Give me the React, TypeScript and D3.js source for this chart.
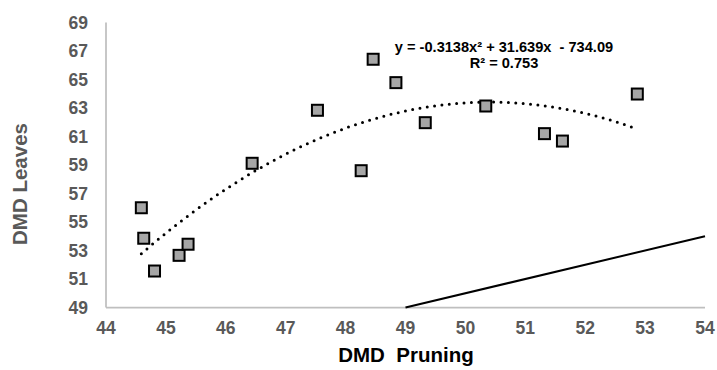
import React from "react";
import * as d3 from "d3";

const pruning = [44.59, 44.63, 44.81, 45.22, 45.37, 46.44, 47.53, 48.26, 48.46, 48.84, 49.33, 50.34, 51.32, 51.62, 52.87];
const leaves = [56.0, 53.86, 51.56, 52.66, 53.44, 59.12, 62.84, 58.6, 66.42, 64.78, 61.97, 63.14, 61.2, 60.68, 63.98];
const xTicks = [44, 45, 46, 47, 48, 49, 50, 51, 52, 53, 54];
const yTicks = [49, 51, 53, 55, 57, 59, 61, 63, 65, 67, 69];
const coef = { a: -0.3138, b: 31.639, c: -734.09 };
const refLine = [49, 54];

const W = 717, H = 370;
const left = 106, right = 705, top = 22.5, bottom = 307.5;

export default function App() {
  const x = d3.scaleLinear().domain([44, 54]).range([left, right]);
  const y = d3.scaleLinear().domain([49, 69]).range([bottom, top]);
  const xMin = d3.min(pruning)!;
  const xMax = d3.max(pruning)!;
  const trendPts = d3.range(0, 201).map((i) => {
    const xv = xMin + ((xMax - xMin) * i) / 200;
    return [xv, coef.a * xv * xv + coef.b * xv + coef.c] as [number, number];
  });
  const line = d3.line<[number, number]>().x((d) => x(d[0])).y((d) => y(d[1]));
  const gray = "#595959";
  const font = "Liberation Sans, Arial, sans-serif";
  const ms = 11;
  return (
    <svg width={W} height={H} style={{ position: "absolute", left: 0, top: 0, background: "#fff" }} fontFamily={font}>
      <line x1={left} x2={left} y1={top} y2={bottom} stroke="#bfbfbf" strokeWidth={1.75} />
      <line x1={left} x2={right} y1={bottom} y2={bottom} stroke="#bfbfbf" strokeWidth={1.75} />
      {yTicks.map((t) => (
        <text key={t} x={88} y={y(t)} dy="0.36em" textAnchor="end" fontSize={17.5} fontWeight="bold" fill={gray}>
          {t}
        </text>
      ))}
      {xTicks.map((t) => (
        <text key={t} x={x(t)} y={328} dy="0.36em" textAnchor="middle" fontSize={17.5} fontWeight="bold" fill={gray}>
          {t}
        </text>
      ))}
      <text transform="translate(27,184) rotate(-90)" textAnchor="middle" fontSize={20.5} fontWeight="bold" fill={gray}>
        DMD Leaves
      </text>
      <text x={406} y={362} textAnchor="middle" fontSize={20.5} fontWeight="bold" fill="#000" style={{ whiteSpace: "pre" }}>
        {"DMD  Pruning"}
      </text>
      <line x1={x(refLine[0])} y1={y(refLine[0])} x2={x(refLine[1])} y2={y(refLine[1])} stroke="#000" strokeWidth={2} />
      <path d={line(trendPts)!} fill="none" stroke="#000" strokeWidth={3} strokeDasharray="0 7.4" strokeLinecap="round" />
      {pruning.map((p, i) => (
        <rect key={i} x={x(p) - ms / 2} y={y(leaves[i]) - ms / 2} width={ms} height={ms} fill="#a6a6a6" stroke="#000" strokeWidth={2} />
      ))}
      <text x={504} y={52} textAnchor="middle" fontSize={14.6} fontWeight="bold" fill="#000" style={{ whiteSpace: "pre" }}>
        {"y = -0.3138x² + 31.639x  - 734.09"}
      </text>
      <text x={504} y={67.5} textAnchor="middle" fontSize={14.6} fontWeight="bold" fill="#000">
        R² = 0.753
      </text>
    </svg>
  );
}
